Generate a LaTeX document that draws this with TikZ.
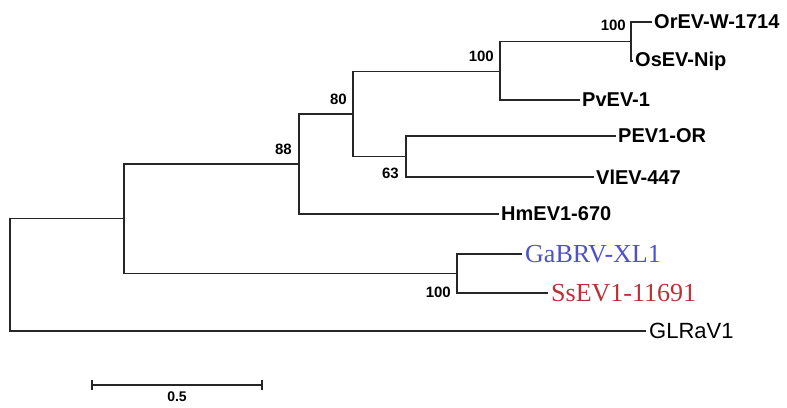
\documentclass[tikz,border=0pt]{standalone}
\usepackage{fontspec}
\setmainfont{Liberation Serif}
\setsansfont{Liberation Sans}
\usepackage{tikz}
\usetikzlibrary{positioning, arrows.meta}

\definecolor{gablue}{RGB}{78,80,205}
\definecolor{ssred}{RGB}{186,48,56}

\begin{document}
\begin{tikzpicture}[
            x=1pt, y=-1pt,
            branch/.style={draw=black!85, line width=1.6pt},
            tip/.style={inner sep=2pt, anchor=west, font=\sffamily\bfseries\fontsize{20}{20}\selectfont},
            plain/.style={inner sep=3pt, anchor=west, font=\sffamily\fontsize{22}{22}\selectfont},
            virus/.style={inner sep=3pt, anchor=west, font=\rmfamily\fontsize{26}{26}\selectfont},
            boot/.style={inner sep=0pt, font=\sffamily\bfseries\fontsize{15}{15}\selectfont},
        ]
        \useasboundingbox (0,0) rectangle (787,407);

        % Draw the inner nodes of the tree
        \foreach \name / \x / \y in {root/10/275, nB/124/218.5, nA/299/164, n80/353/114,
                                     nP/500/71.5, nO/631/41.5, n63/406/156.5, nG/457/273.5}
        \coordinate (\name) at (\x,\y);

        % Draw the leaves
        \foreach \name / \x / \y / \txt in {OrEV/652/22/OrEV-W-1714, OsEV/633/61/OsEV-Nip,
                                            PvEV/580/100/PvEV-1, PEV/616/136/PEV1-OR,
                                            VlEV/594/177/VlEV-447, HmEV/499/214/HmEV1-670}
        \node[tip] (T-\name) at (\x,\y) {\txt};
        \node[virus, text=gablue] (T-GaBRV) at (522,254) {GaBRV-XL1};
        \node[virus, text=ssred] (T-SsEV) at (548,293) {SsEV1-11691};
        \node[plain] (T-GLRaV) at (646,331) {GLRaV1};

        % Connect every parent with its children
        \foreach \source / \dest in {root/nB, root/T-GLRaV, nB/nA, nB/nG, nA/n80, nA/T-HmEV,
                                     n80/nP, n80/n63, nP/nO, nP/T-PvEV, nO/T-OrEV, nO/T-OsEV,
                                     n63/T-PEV, n63/T-VlEV, nG/T-GaBRV, nG/T-SsEV}
        \draw[branch] (\source) |- (\dest);

        % Bootstrap values
        \node[boot, above left=11pt and 5pt of nO] (B-nO) {100};
        \node[boot, above left=10pt and 6pt of nP] (B-nP) {100};
        \node[boot, above left=9pt and 6pt of n80] (B-n80) {80};
        \node[boot, above left=9pt and 7pt of nA] (B-nA) {88};
        \node[boot, below left=11pt and 7pt of n63] (B-n63) {63};
        \node[boot, below left=13pt and 6pt of nG] (B-nG) {100};

        % Scale bar
        \coordinate (S-a) at (91,385);
        \coordinate (S-b) at (263,385);
        \draw[branch, {Bar[width=10pt]}-{Bar[width=10pt]}] (S-a) -- node[boot, below=6pt, font=\sffamily\bfseries\fontsize{14}{14}\selectfont] (S-lbl) {0.5} (S-b);
    \end{tikzpicture}
\end{document}
